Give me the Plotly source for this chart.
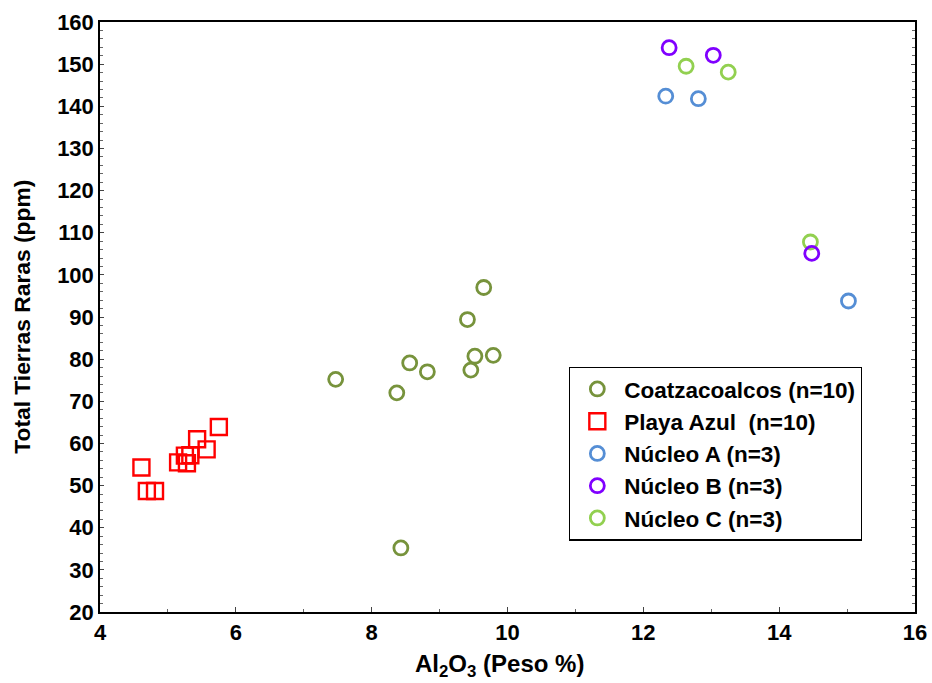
import plotly.graph_objects as go

# Data (Al2O3 wt%, total REE ppm)
coatza_x = [7.47, 8.37, 8.56, 8.82, 9.41, 9.65, 9.52, 9.46, 9.79, 8.43]
coatza_y = [75.2, 72.0, 79.1, 77.0, 89.4, 97.0, 80.7, 77.4, 80.9, 35.2]

playa_x = [4.61, 4.69, 4.81, 5.15, 5.25, 5.33, 5.28, 5.43, 5.57, 5.75]
playa_y = [54.3, 48.7, 48.7, 55.5, 57.1, 57.2, 55.3, 61.0, 58.6, 63.9]

nucA_x = [12.33, 12.81, 15.02]
nucA_y = [142.4, 141.8, 93.8]
nucB_x = [12.38, 13.03, 14.48]
nucB_y = [153.9, 152.1, 105.1]
nucC_x = [12.63, 13.25, 14.46]
nucC_y = [149.5, 148.1, 107.8]

x_ticks = [4, 6, 8, 10, 12, 14, 16]
y_ticks = [20, 30, 40, 50, 60, 70, 80, 90, 100, 110, 120, 130, 140, 150, 160]

FONT = "Arial, 'Liberation Sans', sans-serif"

fig = go.Figure()

def circ(x, y, name, color, rank):
    return go.Scatter(
        x=x, y=y, mode="markers", name=name, legendrank=rank,
        marker=dict(symbol="circle-open", size=14, color=color,
                    line=dict(width=2.8, color=color)),
    )

fig.add_trace(circ(coatza_x, coatza_y, "Coatzacoalcos (n=10)", "#77933C", 1))
fig.add_trace(go.Scatter(
    x=playa_x, y=playa_y, mode="markers", name="Playa Azul\u00a0 (n=10)", legendrank=2,
    marker=dict(symbol="square-open", size=16, color="#FF0000",
                line=dict(width=2.4, color="#FF0000")),
))
fig.add_trace(circ(nucA_x, nucA_y, "Núcleo A (n=3)", "#558ED5", 3))
fig.add_trace(circ(nucC_x, nucC_y, "Núcleo C (n=3)", "#92D050", 5))
fig.add_trace(circ(nucB_x, nucB_y, "Núcleo B (n=3)", "#8000FF", 4))

fig.update_layout(
    width=932, height=683,
    margin=dict(l=100, r=17, t=22, b=71, autoexpand=False),
    paper_bgcolor="white", plot_bgcolor="white",
    font=dict(family=FONT, color="black"),
    showlegend=True,
    legend=dict(
        x=0.5755, y=0.2686, xanchor="left", yanchor="middle",
        bordercolor="black", borderwidth=1.3, bgcolor="white",
        font=dict(size=22.5, family=FONT, color="black", weight="bold"),
        itemwidth=44, tracegroupgap=0,
    ),
    xaxis=dict(
        range=[4, 16], tickvals=x_ticks, ticktext=[str(v) for v in x_ticks],
        showgrid=False, zeroline=False, automargin=False,
        showline=True, linecolor="black", linewidth=1.5, mirror=True,
        ticks="inside", ticklen=5, tickcolor="#444", tickwidth=1,
        minor=dict(dtick=1, ticks="inside", ticklen=3, tickcolor="#666", showgrid=False),
        tickfont=dict(size=22, family=FONT, color="black", weight="bold"),
    ),
    yaxis=dict(
        range=[20, 160], tickvals=y_ticks, ticktext=[str(v) for v in y_ticks],
        showgrid=False, zeroline=False, automargin=False,
        showline=True, linecolor="black", linewidth=1.5, mirror="ticks",
        ticks="inside", ticklen=4, tickcolor="#444", tickwidth=1,
        minor=dict(dtick=2, ticks="inside", ticklen=3, tickcolor="#666", showgrid=False),
        tickfont=dict(size=22, family=FONT, color="black", weight="bold"),
    ),
    annotations=[
        dict(text="Al<sub>2</sub>O<sub>3</sub> (Peso %)", xref="paper", yref="paper",
             x=0.49, y=-0.09, xanchor="center", yanchor="middle", showarrow=False,
             font=dict(size=24, family=FONT, color="black", weight="bold")),
        dict(text="Total Tierras Raras (ppm)", xref="paper", yref="paper",
             x=-0.096, y=0.5, xanchor="center", yanchor="middle", textangle=-90,
             showarrow=False,
             font=dict(size=22.8, family=FONT, color="black", weight="bold")),
    ],
)

fig.write_html("out.html")
